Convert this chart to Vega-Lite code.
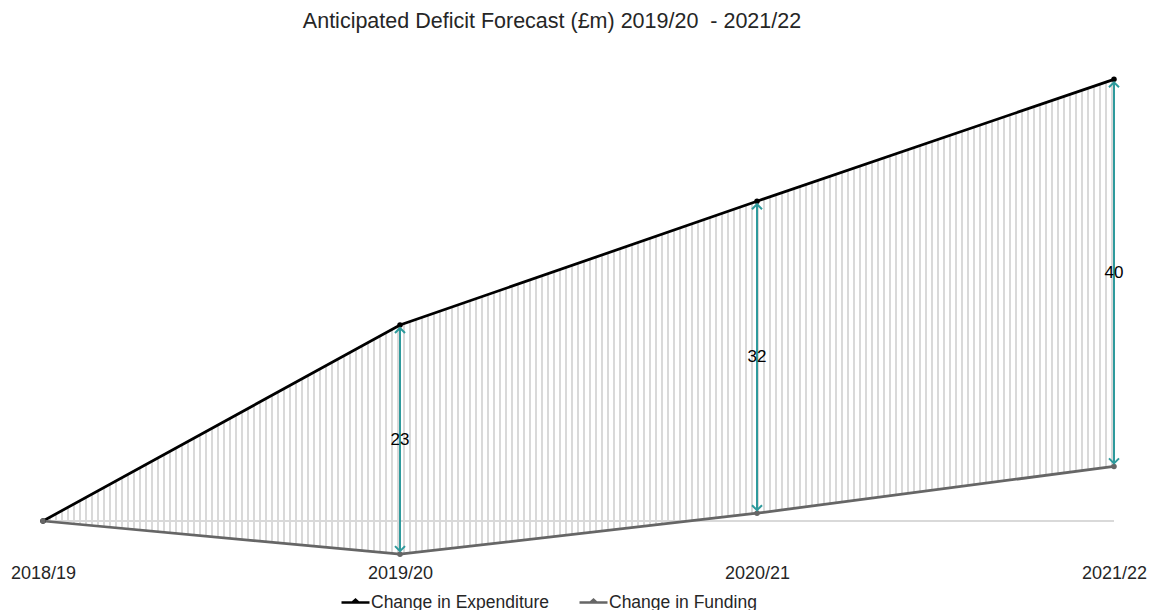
{
  "$schema": "https://vega.github.io/schema/vega-lite/v6.json",
  "autosize": {"type": "none"},
  "padding": {"left": 43, "top": 33.5, "right": 45, "bottom": 50},
  "width": 1071,
  "height": 526.5,
  "background": "#ffffff",
  "title": {
    "text": "Anticipated Deficit Forecast (£m) 2019/20\u00a0 - 2021/22",
    "font": "Liberation Sans",
    "fontSize": 21.5,
    "fontWeight": "normal",
    "color": "#262626",
    "anchor": "middle",
    "frame": "group",
    "baseline": "alphabetic",
    "offset": 6.5,
    "dx": -26.5,
    "dy": 22
  },
  "data": {
    "values": [
      {"year": "2018/19", "expenditure": 0, "funding": 0, "deficit": null},
      {"year": "2019/20", "expenditure": 20.1, "funding": -3.4, "deficit": 23},
      {"year": "2020/21", "expenditure": 32.8, "funding": 0.8, "deficit": 32},
      {"year": "2021/22", "expenditure": 45.3, "funding": 5.6, "deficit": 40}
    ]
  },
  "layer": [
    {
      "mark": {"type": "rule", "color": "#d9d9d9", "strokeWidth": 480, "strokeDash": [2, 4], "strokeCap": "butt", "clip": true},
      "encoding": {
        "x": {"datum": "2018/19", "type": "ordinal", "scale": {"type": "point", "padding": 0, "domain": ["2018/19", "2019/20", "2020/21", "2021/22"]}},
        "x2": {"datum": "2021/22"},
        "y": {"datum": 21, "type": "quantitative", "scale": {"domain": [-4, 50], "nice": false, "zero": false}, "axis": null}
      }
    },
    {
      "mark": {"type": "area", "color": "#ffffff", "opacity": 1, "clip": true},
      "encoding": {
        "x": {"field": "year", "type": "ordinal"},
        "y": {"field": "expenditure", "type": "quantitative", "axis": null},
        "y2": {"datum": 50}
      }
    },
    {
      "mark": {"type": "area", "color": "#ffffff", "opacity": 1, "clip": true},
      "encoding": {
        "x": {"field": "year", "type": "ordinal"},
        "y": {"field": "funding", "type": "quantitative", "axis": null},
        "y2": {"datum": -4}
      }
    },
    {
      "mark": {"type": "rule", "color": "#d9d9d9", "strokeWidth": 1.5},
      "encoding": {
        "x": {"datum": "2018/19", "type": "ordinal"},
        "x2": {"datum": "2021/22"},
        "y": {"datum": 0, "type": "quantitative", "axis": null}
      }
    },
    {
      "transform": [{"fold": ["expenditure", "funding"], "as": ["series", "value"]}],
      "mark": {"type": "line", "strokeWidth": 2.75, "point": {"filled": true, "size": 30}},
      "encoding": {
        "x": {
          "field": "year", "type": "ordinal", "title": null,
          "axis": {"domain": false, "ticks": false, "grid": false, "labelAngle": 0, "labelAlign": "center", "labelFlush": false, "labelFont": "Liberation Sans", "labelFontSize": 18, "labelColor": "#262626", "labelPadding": 13}
        },
        "y": {"field": "value", "type": "quantitative", "axis": null},
        "color": {
          "field": "series", "type": "nominal",
          "scale": {"domain": ["expenditure", "funding"], "range": ["#000000", "#666666"]},
          "legend": {
            "title": null,
            "orient": "none",
            "direction": "horizontal",
            "legendX": 297,
            "legendY": 553.5,
            "padding": 0,
            "labelExpr": "datum.label == 'expenditure' ? 'Change in Expenditure' : 'Change in Funding'",
            "labelFont": "Liberation Sans",
            "labelFontSize": 17.5,
            "labelColor": "#262626",
            "labelLimit": 400,
            "labelOffset": 0,
            "columnPadding": 24,
            "symbolType": "M-1,0L1,0M-0.22,0L0,-0.2L0.22,0Z",
            "symbolSize": 784,
            "symbolStrokeWidth": 2.5
          }
        }
      }
    },
    {
      "transform": [{"filter": "datum.deficit != null"}],
      "mark": {"type": "rule", "color": "#2e9a9c", "strokeWidth": 2, "yOffset": -3, "y2Offset": 3},
      "encoding": {
        "x": {"field": "year", "type": "ordinal"},
        "y": {"field": "funding", "type": "quantitative", "axis": null},
        "y2": {"field": "expenditure"}
      }
    },
    {
      "transform": [{"filter": "datum.deficit != null"}],
      "mark": {"type": "point", "shape": "M-1,1L0,0L1,1", "size": 100, "filled": false, "color": "#2e9a9c", "strokeWidth": 2, "opacity": 1, "yOffset": 3},
      "encoding": {
        "x": {"field": "year", "type": "ordinal"},
        "y": {"field": "expenditure", "type": "quantitative", "axis": null}
      }
    },
    {
      "transform": [{"filter": "datum.deficit != null"}],
      "mark": {"type": "point", "shape": "M-1,-1L0,0L1,-1", "size": 100, "filled": false, "color": "#2e9a9c", "strokeWidth": 2, "opacity": 1, "yOffset": -3},
      "encoding": {
        "x": {"field": "year", "type": "ordinal"},
        "y": {"field": "funding", "type": "quantitative", "axis": null}
      }
    },
    {
      "transform": [
        {"filter": "datum.deficit != null"},
        {"calculate": "(datum.expenditure + datum.funding) / 2", "as": "mid"}
      ],
      "mark": {"type": "text", "font": "Liberation Sans", "fontSize": 17, "color": "#000000", "align": "center", "baseline": "middle"},
      "encoding": {
        "x": {"field": "year", "type": "ordinal"},
        "y": {"field": "mid", "type": "quantitative", "axis": null},
        "text": {"field": "deficit", "type": "quantitative"}
      }
    }
  ],
  "config": {
    "view": {"stroke": null},
    "axisY": {"disable": true}
  }
}
